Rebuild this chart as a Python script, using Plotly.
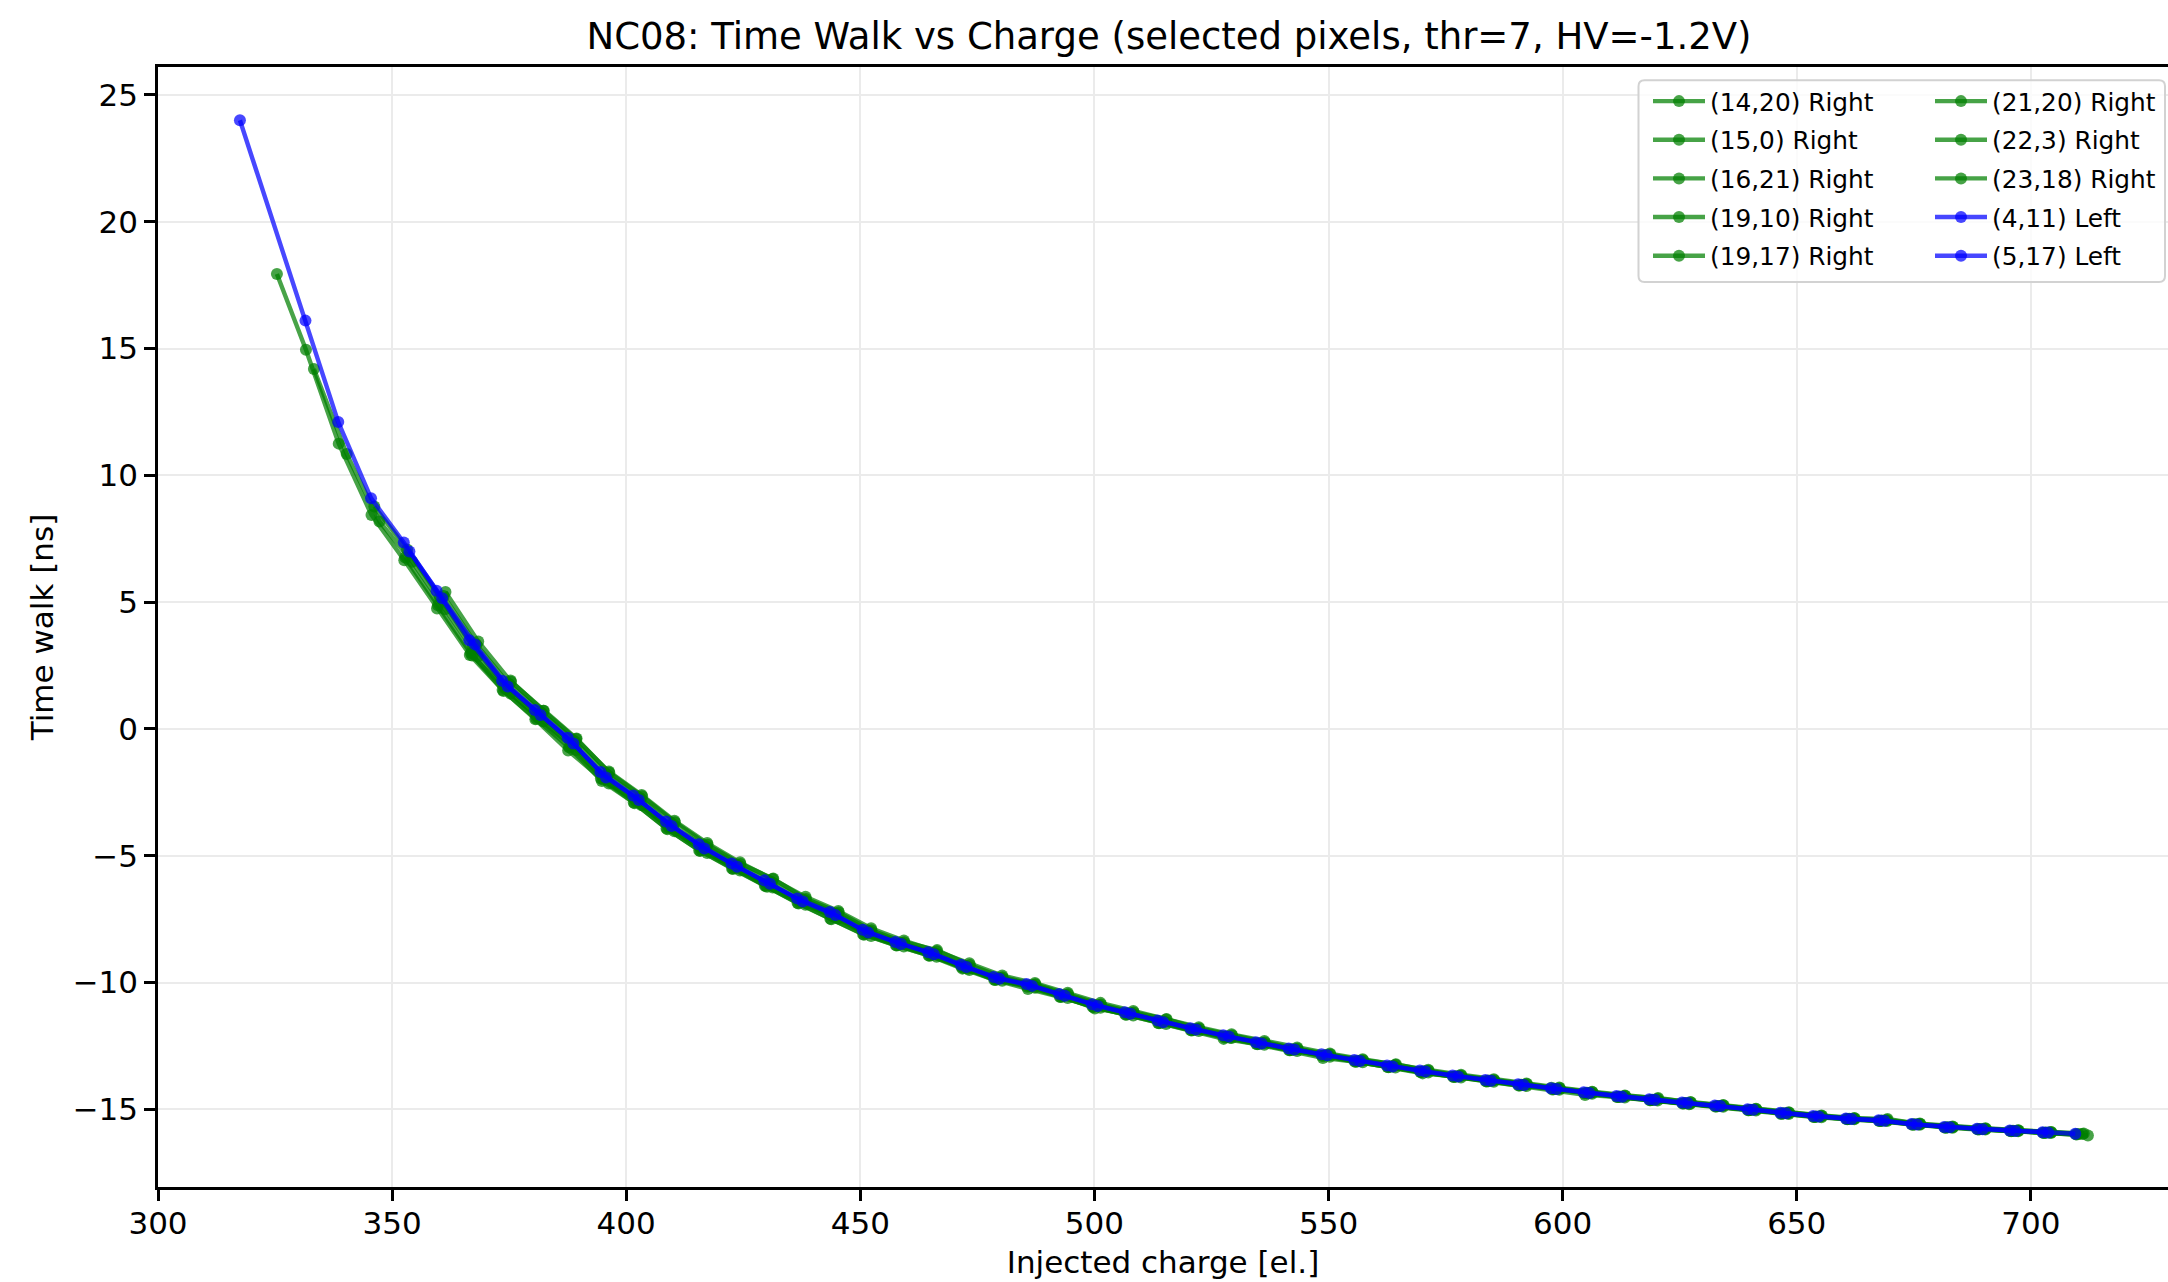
import plotly.graph_objects as go

# ---- measured time walk per pixel: injected charge [el.] and time walk [ns] ----
charge_14_20 = [325.4, 331.6, 338.6, 345.6, 352.6, 359.6, 366.6, 373.6, 380.6, 387.6, 394.6, 401.6, 408.6, 415.6,
                422.6, 429.6, 436.6, 443.6, 450.6, 457.6, 464.6, 471.6, 478.6, 485.6, 492.6, 499.6, 506.6, 513.6,
                520.6, 527.6, 534.6, 541.6, 548.6, 555.6, 562.6, 569.6, 576.6, 583.6, 590.6, 597.6, 604.6, 611.6,
                618.6, 625.6, 632.6, 639.6, 646.6, 653.6, 660.6, 667.6, 674.6, 681.6, 688.6, 695.6, 702.6, 709.6]
walk_14_20 = [17.94, 14.95, 11.25, 8.44, 6.65, 4.75, 2.92, 1.54, 0.38, -0.85, -1.95, -2.90, -3.92, -4.79,
              -5.50, -6.17, -6.86, -7.48, -8.09, -8.53, -8.93, -9.38, -9.89, -10.16, -10.56, -10.95, -11.26, -11.59,
              -11.88, -12.22, -12.42, -12.67, -12.89, -13.11, -13.33, -13.53, -13.71, -13.89, -14.06, -14.15, -14.36, -14.51,
              -14.64, -14.77, -14.89, -15.03, -15.17, -15.30, -15.38, -15.46, -15.60, -15.71, -15.78, -15.85, -15.92, -15.98]

charge_15_0 = [333.3, 340.3, 347.3, 354.3, 361.3, 368.3, 375.3, 382.3, 389.3, 396.3, 403.3, 410.3, 417.3, 424.3,
               431.3, 438.3, 445.3, 452.3, 459.3, 466.3, 473.3, 480.3, 487.3, 494.3, 501.3, 508.3, 515.3, 522.3,
               529.3, 536.3, 543.3, 550.3, 557.3, 564.3, 571.3, 578.3, 585.3, 592.3, 599.3, 606.3, 613.3, 620.3,
               627.3, 634.3, 641.3, 648.3, 655.3, 662.3, 669.3, 676.3, 683.3, 690.3, 697.3, 704.3, 712.2]
walk_15_0 = [14.19, 10.84, 8.18, 6.59, 4.72, 2.86, 1.40, 0.30, -0.83, -2.15, -3.01, -4.03, -4.89, -5.58,
             -6.25, -6.93, -7.47, -8.16, -8.58, -8.98, -9.50, -9.93, -10.20, -10.61, -10.99, -11.30, -11.63, -11.91,
             -12.19, -12.45, -12.70, -12.92, -13.14, -13.35, -13.55, -13.74, -13.91, -14.08, -14.23, -14.38, -14.53, -14.65,
             -14.78, -14.90, -15.04, -15.18, -15.31, -15.39, -15.46, -15.61, -15.72, -15.79, -15.86, -15.93, -16.03]

charge_16_21 = [346.2, 353.2, 360.2, 367.2, 374.2, 381.2, 388.2, 395.2, 402.2, 409.2, 416.2, 423.2, 430.2, 437.2,
                444.2, 451.2, 458.2, 465.2, 472.2, 479.2, 486.2, 493.2, 500.2, 507.2, 514.2, 521.2, 528.2, 535.2,
                542.2, 549.2, 556.2, 563.2, 570.2, 577.2, 584.2, 591.2, 598.2, 605.2, 612.2, 619.2, 626.2, 633.2,
                640.2, 647.2, 654.2, 661.2, 668.2, 675.2, 682.2, 689.2, 696.2, 703.2, 710.2]
walk_16_21 = [8.77, 7.08, 5.19, 3.27, 1.72, 0.59, -0.52, -1.86, -2.76, -3.79, -4.67, -5.40, -6.07, -6.77,
              -7.31, -8.01, -8.47, -8.87, -9.37, -9.84, -10.11, -10.51, -10.90, -11.22, -11.55, -11.84, -12.12, -12.39,
              -12.63, -12.86, -13.08, -13.30, -13.50, -13.69, -13.86, -14.03, -14.19, -14.34, -14.49, -14.62, -14.75, -14.87,
              -15.01, -15.15, -15.28, -15.37, -15.44, -15.59, -15.70, -15.77, -15.84, -15.91, -15.97]

charge_19_10 = [361.4, 368.4, 375.4, 382.4, 389.4, 396.4, 403.4, 410.4, 417.4, 424.4, 431.4, 438.4, 445.4,
                452.4, 459.4, 466.4, 473.4, 480.4, 487.4, 494.4, 501.4, 508.4, 515.4, 522.4, 529.4, 536.4, 543.4,
                550.4, 557.4, 564.4, 571.4, 578.4, 585.4, 592.4, 599.4, 606.4, 613.4, 620.4, 627.4, 634.4, 641.4,
                648.4, 655.4, 662.4, 669.4, 676.4, 683.4, 690.4, 697.4, 704.4]
walk_19_10 = [5.40, 3.45, 1.86, 0.72, -0.38, -1.73, -2.65, -3.68, -4.57, -5.32, -5.90, -6.70, -7.24,
              -7.94, -8.41, -8.72, -9.31, -9.79, -10.07, -10.46, -10.86, -11.18, -11.44, -11.81, -12.09, -12.36, -12.61,
              -12.84, -13.06, -13.22, -13.48, -13.67, -13.85, -14.01, -14.17, -14.32, -14.47, -14.55, -14.73, -14.85, -14.99,
              -15.13, -15.26, -15.36, -15.38, -15.58, -15.69, -15.76, -15.83, -15.90]

charge_19_17 = [352.8, 359.8, 366.8, 373.8, 380.8, 387.8, 394.8, 401.8, 408.8, 415.8, 422.8, 429.8, 436.8, 443.8,
                450.8, 457.8, 464.8, 471.8, 478.8, 485.8, 492.8, 499.8, 506.8, 513.8, 520.8, 527.8, 534.8, 541.8,
                548.8, 555.8, 562.8, 569.8, 576.8, 583.8, 590.8, 597.8, 604.8, 611.8, 618.8, 625.8, 632.8, 639.8,
                646.8, 653.8, 660.8, 667.8, 674.8, 681.8, 688.8, 695.8, 702.8, 709.8]
walk_19_17 = [6.76, 4.88, 2.99, 1.50, 0.40, -0.72, -2.05, -2.93, -3.95, -4.81, -5.52, -6.19, -6.88, -7.50,
              -8.11, -8.54, -8.94, -9.45, -9.90, -10.25, -10.57, -10.96, -11.27, -11.60, -11.89, -12.17, -12.43, -12.67,
              -12.97, -13.12, -13.34, -13.53, -13.72, -13.90, -14.06, -14.22, -14.43, -14.51, -14.64, -14.77, -14.89, -15.03,
              -15.17, -15.30, -15.39, -15.46, -15.61, -15.72, -15.79, -15.86, -15.93, -15.99]

charge_21_20 = [361.0, 368.0, 375.0, 382.0, 389.0, 396.0, 403.0, 410.0, 417.0, 424.0, 431.0, 438.0, 445.0, 452.0,
                459.0, 466.0, 473.0, 480.0, 487.0, 494.0, 501.0, 508.0, 515.0, 522.0, 529.0, 536.0, 543.0, 550.0,
                557.0, 564.0, 571.0, 578.0, 585.0, 592.0, 599.0, 606.0, 613.0, 620.0, 627.0, 634.0, 641.0, 648.0,
                655.0, 662.0, 669.0, 676.0, 683.0, 690.0, 697.0, 704.0, 711.0]
walk_21_20 = [5.24, 3.32, 1.76, 0.62, -0.49, -1.83, -2.73, -3.86, -4.65, -5.38, -6.05, -6.75, -7.29, -7.99,
              -8.45, -8.85, -9.45, -9.82, -10.10, -10.49, -10.89, -11.21, -11.54, -11.83, -12.18, -12.38, -12.63, -12.86,
              -13.07, -13.29, -13.49, -13.68, -13.86, -14.03, -14.19, -14.34, -14.49, -14.62, -14.80, -14.86, -15.00, -15.15,
              -15.28, -15.37, -15.44, -15.59, -15.70, -15.77, -15.84, -15.91, -15.97]

charge_22_3 = [367.1, 374.1, 381.1, 388.1, 395.1, 402.1, 409.1, 416.1, 423.1, 430.1, 437.1, 444.1, 451.1, 458.1,
               465.1, 472.1, 479.1, 486.1, 493.1, 500.1, 507.1, 514.1, 521.1, 528.1, 535.1, 542.1, 549.1, 556.1,
               563.1, 570.1, 577.1, 584.1, 591.1, 598.1, 605.1, 612.1, 619.1, 626.1, 633.1, 640.1, 647.1, 654.1,
               661.1, 668.1, 675.1, 682.1, 689.1, 696.1, 703.1]
walk_22_3 = [2.90, 1.58, 0.46, -0.66, -1.99, -2.87, -3.89, -4.77, -5.48, -6.22, -6.84, -7.38, -8.07, -8.52,
             -8.92, -9.43, -9.88, -10.15, -10.55, -11.02, -11.25, -11.58, -11.87, -12.15, -12.42, -12.66, -12.89, -13.11,
             -13.32, -13.58, -13.71, -13.89, -14.05, -14.21, -14.36, -14.51, -14.63, -14.76, -14.88, -15.02, -15.16, -15.29,
             -15.38, -15.45, -15.60, -15.71, -15.78, -15.85, -15.92]

charge_23_18 = [375.3, 382.3, 389.3, 396.3, 403.3, 410.3, 417.3, 424.3, 431.3, 438.3, 445.3, 452.3, 459.3, 466.3,
                473.3, 480.3, 487.3, 494.3, 501.3, 508.3, 515.3, 522.3, 529.3, 536.3, 543.3, 550.3, 557.3, 564.3,
                571.3, 578.3, 585.3, 592.3, 599.3, 606.3, 613.3, 620.3, 627.3, 634.3, 641.3, 648.3, 655.3, 662.3,
                669.3, 676.3, 683.3, 690.3, 697.3, 704.3, 711.3]
walk_23_18 = [1.91, 0.72, -0.40, -1.68, -2.60, -3.62, -4.50, -5.26, -5.92, -6.62, -7.18, -7.86, -8.34, -8.76,
              -9.24, -9.72, -10.02, -10.40, -10.80, -11.12, -11.46, -11.76, -12.04, -12.30, -12.56, -12.80, -13.02, -13.24,
              -13.44, -13.63, -13.81, -13.98, -14.14, -14.30, -14.45, -14.58, -14.71, -14.83, -14.97, -15.11, -15.24, -15.34,
              -15.42, -15.56, -15.67, -15.74, -15.82, -15.89, -15.95]

charge_4_11 = [317.5, 331.5, 338.5, 345.5, 352.5, 359.5, 366.5, 373.5, 380.5, 387.5, 394.5, 401.5, 408.5, 415.5,
               422.5, 429.5, 436.5, 443.5, 450.5, 457.5, 464.5, 471.5, 478.5, 485.5, 492.5, 499.5, 506.5, 513.5,
               520.5, 527.5, 534.5, 541.5, 548.5, 555.5, 562.5, 569.5, 576.5, 583.5, 590.5, 597.5, 604.5, 611.5,
               618.5, 625.5, 632.5, 639.5, 646.5, 653.5, 660.5, 667.5, 674.5, 681.5, 688.5, 695.5, 702.5, 709.5]
walk_4_11 = [24.0, 16.1, 12.1, 9.1, 7.35, 5.45, 3.5, 1.9, 0.75, -0.35, -1.7, -2.62, -3.65, -4.55,
             -5.30, -5.97, -6.68, -7.22, -7.92, -8.40, -8.80, -9.30, -9.78, -10.06, -10.45, -10.85, -11.17, -11.50,
             -11.80, -12.08, -12.35, -12.60, -12.83, -13.05, -13.27, -13.47, -13.66, -13.84, -14.01, -14.17, -14.32, -14.47,
             -14.60, -14.73, -14.85, -14.99, -15.13, -15.26, -15.36, -15.43, -15.58, -15.69, -15.76, -15.83, -15.90, -15.96]

charge_5_17 = [353.7, 360.7, 367.7, 374.7, 381.7, 388.7, 395.7, 402.7, 409.7, 416.7, 423.7, 430.7, 437.7, 444.7,
               451.7, 458.7, 465.7, 472.7, 479.7, 486.7, 493.7, 500.7, 507.7, 514.7, 521.7, 528.7, 535.7, 542.7,
               549.7, 556.7, 563.7, 570.7, 577.7, 584.7, 591.7, 598.7, 605.7, 612.7, 619.7, 626.7, 633.7, 640.7,
               647.7, 654.7, 661.7, 668.7, 675.7, 682.7, 689.7, 696.7, 703.7]
walk_5_17 = [7.0, 5.15, 3.33, 1.67, 0.55, -0.57, -1.91, -2.80, -3.83, -4.71, -5.43, -6.10, -6.80, -7.34,
             -8.03, -8.48, -8.88, -9.39, -9.85, -10.13, -10.52, -10.92, -11.23, -11.56, -11.85, -12.13, -12.40, -12.64,
             -12.87, -13.09, -13.31, -13.51, -13.70, -13.87, -14.04, -14.20, -14.35, -14.50, -14.62, -14.75, -14.87, -15.01,
             -15.15, -15.28, -15.38, -15.45, -15.60, -15.70, -15.78, -15.85, -15.91]

# legend label, readout side, charge, walk (plotting order = legend order)
pixels = [
    ("(14,20) Right", "Right", charge_14_20, walk_14_20),
    ("(15,0) Right", "Right", charge_15_0, walk_15_0),
    ("(16,21) Right", "Right", charge_16_21, walk_16_21),
    ("(19,10) Right", "Right", charge_19_10, walk_19_10),
    ("(19,17) Right", "Right", charge_19_17, walk_19_17),
    ("(21,20) Right", "Right", charge_21_20, walk_21_20),
    ("(22,3) Right", "Right", charge_22_3, walk_22_3),
    ("(23,18) Right", "Right", charge_23_18, walk_23_18),
    ("(4,11) Left", "Left", charge_4_11, walk_4_11),
    ("(5,17) Left", "Left", charge_5_17, walk_5_17),
]

x_ticks = [300, 350, 400, 450, 500, 550, 600, 650, 700]
y_ticks = [-15, -10, -5, 0, 5, 10, 15, 20, 25]

SIDE_COLOR = {"Right": "rgba(0,128,0,0.72)", "Left": "rgba(0,0,255,0.72)"}
FONT = "DejaVu Sans"

W, H = 2168, 1282
ML, MR, MT, MB = 158, 0, 67, 95
PW, PH = W - ML - MR, H - MT - MB


def px_x(p):
    return (p - ML) / PW


def px_y(p):
    return (H - MB - p) / PH


fig = go.Figure()
for i, (label, side, q, tw) in enumerate(pixels):
    assert len(q) == len(tw), label
    col = SIDE_COLOR[side]
    fig.add_trace(go.Scatter(
        x=q, y=tw, name=label, mode="lines+markers",
        line=dict(color=col, width=4.4),
        marker=dict(color=col, size=12, line=dict(width=0)),
        legend="legend" if i < 5 else "legend2",
        legendgroup=label,
    ))

axis_common = dict(
    showline=True, linecolor="#000", linewidth=2.5,
    ticks="outside", ticklen=11, tickwidth=2.5, tickcolor="#000",
    showgrid=True, gridcolor="#ebebeb", gridwidth=2,
    zeroline=False,
    tickfont=dict(family=FONT, size=31, color="#000"),
    title_font=dict(family=FONT, size=31, color="#000"),
)

fig.update_xaxes(
    range=[300, 729.3], tickvals=x_ticks, mirror=True,
    title_text="Injected charge [el.]", title_standoff=12, automargin=False,
    ticklabelstandoff=-4,
    **axis_common,
)
fig.update_yaxes(
    range=[-18.06, 26.10], tickvals=y_ticks, mirror=False,
    title_text="Time walk [ns]", title_standoff=10, automargin=False,
    **axis_common,
)

legend_common = dict(
    bgcolor="rgba(0,0,0,0)", borderwidth=0,
    font=dict(family=FONT, size=24.8, color="#000"),
    itemwidth=52, tracegroupgap=3.4, traceorder="grouped",
    xanchor="left", yanchor="top",
)

# rounded legend frame spanning both legend columns
x0, x1 = px_x(1638.5), px_x(2165)
y0, y1 = px_y(282), px_y(80.2)
rx, ry = 6 / PW, 6 / PH
frame = (f"M{x0+rx},{y0} L{x1-rx},{y0} Q{x1},{y0} {x1},{y0+ry} L{x1},{y1-ry} Q{x1},{y1} {x1-rx},{y1} "
         f"L{x0+rx},{y1} Q{x0},{y1} {x0},{y1-ry} L{x0},{y0+ry} Q{x0},{y0} {x0+rx},{y0} Z")

fig.update_layout(
    width=W, height=H,
    margin=dict(l=ML, r=MR, t=MT, b=MB),
    paper_bgcolor="white", plot_bgcolor="white",
    font=dict(family=FONT, color="#000"),
    title=dict(
        text="NC08: Time Walk vs Charge (selected pixels, thr=7, HV=-1.2V)",
        font=dict(family=FONT, size=37, color="#000"),
        x=1169 / W, xanchor="center", xref="container",
        y=1 - 36 / H, yanchor="middle", yref="container",
    ),
    legend=dict(x=px_x(1648), y=px_y(78.5), **legend_common),
    legend2=dict(x=px_x(1930), y=px_y(78.5), **legend_common),
    shapes=[dict(
        type="path", xref="paper", yref="paper", path=frame,
        line=dict(color="#d2d2d2", width=2), fillcolor="rgba(255,255,255,0.8)", layer="above",
    )],
)

fig.write_html("out.html")
